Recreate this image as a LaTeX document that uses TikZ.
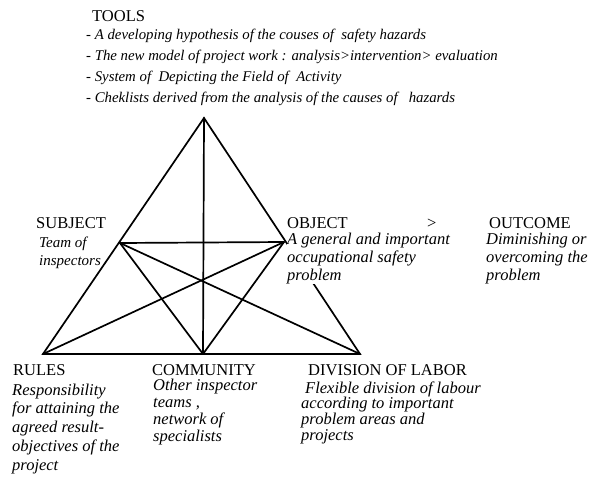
\documentclass[tikz,border=0pt]{standalone}
\usepackage{fontspec}
\setmainfont{Liberation Serif}

\begin{document}
\begin{tikzpicture}
[
	x=1pt, y=-1pt,
	edge/.style={line width=1.7pt, line cap=round},
	head/.style={anchor=base west, inner sep=0pt, font=\fontsize{16.5}{18}\selectfont},
	desc/.style={anchor=base west, inner sep=0pt, align=left, font=\fontsize{16.5}{18}\selectfont\itshape},
]
	\useasboundingbox (0,0) rectangle (600,479);

	% vertices
	\coordinate (vtop) at (204,118);
	\coordinate (vsubj) at (120,243);
	\coordinate (vobj) at (284,242);
	\coordinate (vrules) at (43,354);
	\coordinate (vcomm) at (203,354);
	\coordinate (vdiv) at (360,354);

	% triangle
	\draw[edge] (vtop) -- (vrules) -- (vdiv) -- cycle;
	\draw[edge] (vtop) -- (vcomm);
	\draw[edge] (vsubj) -- (vobj);
	\draw[edge] (vsubj) -- (vcomm);
	\draw[edge] (vsubj) -- (vdiv);
	\draw[edge] (vobj) -- (vrules);
	\draw[edge] (vobj) -- (vcomm);

	% tools (multi-line nodes sit on the baseline of their last line)
	\node[head] (tools) at (92,21) {TOOLS};
	\node[desc, font=\fontsize{14.8}{21}\selectfont\itshape] (toolslist) at (86,102)
		{- A developing hypothesis of the couses of \ safety hazards\\
		- The new model of project work : analysis>intervention> evaluation\\
		- System of \ Depicting the Field of \ Activity\\
		- Cheklists derived from the analysis of the causes of \ \ hazards};

	% subject
	\node[head] (subject) at (36,228) {SUBJECT};
	\node[desc, font=\fontsize{15}{18}\selectfont\itshape] (subjectdesc) at (39,265) {Team of\\inspectors};

	% object
	\node[head] (object) at (287,228) {OBJECT};
	\node[desc, fill=white] (objectdesc) at (287,280)
		{A general and important\\occupational safety\\problem};
	\node[head] (sign) at (427,228) {>};

	% outcome
	\node[head] (outcome) at (489,228) {OUTCOME};
	\node[desc] (outcomedesc) at (486,280)
		{Diminishing or\\overcoming the\\problem};

	% rules
	\node[head] (rules) at (13,375) {RULES};
	\node[desc, font=\fontsize{16.5}{18.75}\selectfont\itshape] (rulesdesc) at (12,470)
		{Responsibility\\for attaining the\\agreed result-\\objectives of the\\project};

	% community
	\node[head] (community) at (152,375) {COMMUNITY};
	\node[desc, font=\fontsize{16.5}{17}\selectfont\itshape] (communitydesc) at (153,441)
		{Other inspector\\teams ,\\network of\\specialists};

	% division of labor
	\node[head] (division) at (308,375) {DIVISION OF LABOR};
	\node[desc] (divisiondesc) at (305,393) {Flexible division of labour};
	\node[desc, font=\fontsize{16.5}{16}\selectfont\itshape] (divisionmore) at (301,440)
		{according to important\\problem areas and\\projects};

\end{tikzpicture}
\end{document}
